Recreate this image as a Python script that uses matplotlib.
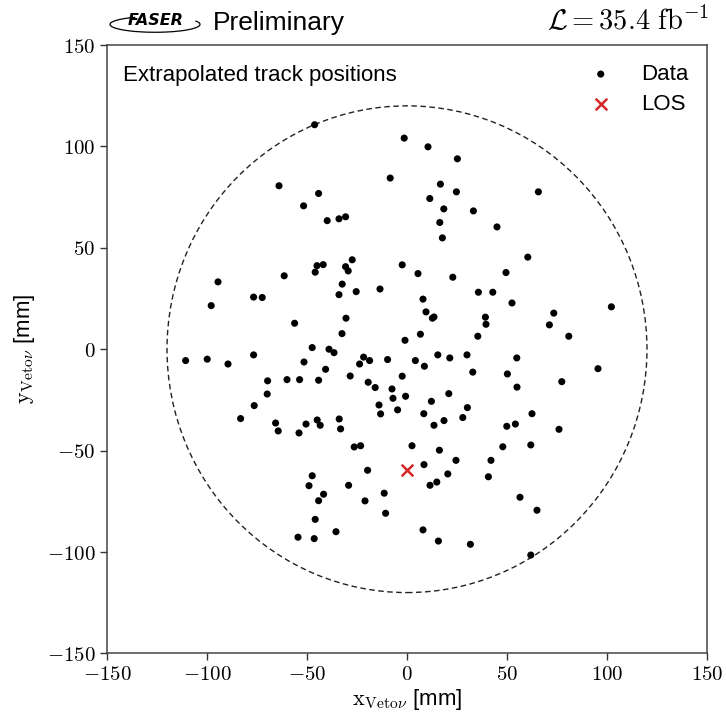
import matplotlib
matplotlib.use("Agg")
import matplotlib.pyplot as plt
from matplotlib.patches import Circle, Arc
import numpy as np

plt.rcParams['font.family'] = ['Liberation Sans', 'DejaVu Sans']
plt.rcParams['mathtext.fontset'] = 'cm'

# Extrapolated track positions (mm)
data_x = [-46.2, -1.4, -8.4, -64.0, -44.2, -51.7, -39.9, -34.0, -30.7, -2.4,
          -27.4, -45.0, -41.9, -45.9, -30.7, -29.4, -61.4, -94.5, -32.4, -34.0,
          -25.4, -13.5, -76.7, -72.4, -97.9, -30.5, -56.2, -32.5, -1.0,
          10.5, 25.2, 16.7, 24.7, 65.7, 11.4, 18.4, 33.2, 16.4, 45.0,
          17.7, 60.4, 5.5, 22.9, 49.5, 35.7, 42.9, 8.0, 52.5, 102.2,
          9.5, 73.4, 12.7, 13.5, 39.2, 39.5, 71.2, 6.7, 35.4, 80.9,
          -47.4, -39.0, -36.5, -110.7, -99.9, -89.5, -76.7, -51.5, -40.7, -21.7,
          -23.7, -18.7, -9.7, -69.7, -60.0, -53.7, -44.2, -28.4, -19.4, -15.9,
          -2.4, -7.5, -7.0, -0.7, -69.9, -76.4, -14.0, -13.2, -4.7, -83.2,
          -65.7, -64.4, -50.5, -44.9, -43.4, -33.9, -33.2, -54.0, -26.4, -23.2,
          -19.7, -47.4, -49.0, -29.2, -41.7, -44.2, -21.0, -11.4, -10.7, -45.9,
          -35.5, -54.5, -46.4,
          15.4, 21.4, 30.0, 4.2, 8.7, 54.9, 95.5, 32.9, 50.2, 77.4,
          55.0, 20.9, 12.2, 30.2, 8.4, 27.9, 18.5, 13.5, 62.5, 54.2,
          49.9, 76.0, 2.5, 16.2, 47.9, 61.9, 24.5, 42.0, 8.5, 20.4,
          14.9, 11.5, 40.7, 56.5, 65.0, 8.0, 15.7, 31.7, 61.9]
data_y = [110.7, 104.1, 84.4, 80.6, 76.8, 70.7, 63.4, 64.3, 65.3, 41.6,
          44.1, 41.2, 41.7, 38.0, 40.7, 38.6, 36.2, 33.2, 32.1, 26.9,
          28.4, 29.7, 25.7, 25.5, 21.5, 15.3, 12.8, 7.7, 4.4,
          99.8, 93.9, 81.4, 77.6, 77.6, 74.3, 69.2, 68.2, 62.5, 60.3,
          54.9, 45.4, 37.3, 35.5, 37.8, 28.1, 28.1, 24.7, 22.8, 20.9,
          18.4, 17.8, 15.3, 15.9, 15.8, 12.3, 12.0, 7.4, 6.4, 6.4,
          0.8, 0.0, -1.7, -5.6, -4.9, -7.3, -2.8, -6.3, -9.9, -3.9,
          -7.3, -5.6, -5.1, -15.6, -15.0, -15.0, -15.3, -13.2, -16.3, -18.9,
          -13.3, -19.6, -24.2, -23.2, -22.1, -27.8, -27.5, -31.9, -29.9, -34.2,
          -36.4, -40.3, -36.9, -34.9, -37.5, -34.4, -39.3, -41.3, -48.2, -47.6,
          -59.7, -62.4, -67.3, -67.1, -71.5, -74.7, -74.8, -71.0, -80.9, -83.9,
          -90.0, -92.7, -93.4,
          -2.8, -4.3, -2.8, -5.6, -8.4, -4.3, -9.6, -11.3, -12.2, -16.0,
          -18.7, -21.9, -25.7, -28.8, -31.8, -33.7, -35.2, -37.5, -31.8, -36.9,
          -38.0, -39.5, -47.6, -49.8, -48.1, -47.2, -54.8, -54.8, -56.9, -61.5,
          -65.5, -67.1, -62.9, -73.0, -79.4, -89.1, -94.6, -96.2, -101.5]

los_x = [0.0]
los_y = [-59.7]
veto_radius = 120.0

ticks = [-150, -100, -50, 0, 50, 100, 150]
tick_labels = [r"$-150$", r"$-100$", r"$-50$", r"$0$", r"$50$", r"$100$", r"$150$"]

fig = plt.figure(figsize=(7.26, 7.17), dpi=100)
ax = fig.add_axes([0.1474, 0.0887, 0.8264, 0.8485])

ax.add_patch(Circle((0, 0), veto_radius, fill=False, ls=(0, (4, 2.5)), lw=1.0, color='#222222'))
ax.scatter(data_x, data_y, s=26, c='black', edgecolors='none', label='Data', zorder=3)
ax.scatter(los_x, los_y, s=70, c='#d62728', marker='x', linewidths=1.8, label='LOS', zorder=4)

ax.set_xlim(-150, 150)
ax.set_ylim(-150, 150)
ax.set_xticks(ticks)
ax.set_xticklabels(tick_labels)
ax.set_yticks(ticks)
ax.set_yticklabels(tick_labels)
ax.tick_params(direction='out', length=5, width=1, labelsize=15, color='#333333')
for sp in ax.spines.values():
    sp.set_color('#444444')
    sp.set_linewidth(1.1)

ax.set_xlabel(r"$\mathrm{x_{Veto\nu}}$ [mm]", fontsize=16, labelpad=2)
ax.set_ylabel(r"$\mathrm{y_{Veto\nu}}$ [mm]", fontsize=16, labelpad=7)

ax.text(0.027, 0.95, "Extrapolated track positions", transform=ax.transAxes,
        fontsize=16, va='center', ha='left')

leg = ax.legend(loc='upper right', frameon=False, fontsize=16, handletextpad=0.8,
                bbox_to_anchor=(1.0, 1.0), borderaxespad=0.45, labelspacing=0.4)

# Header
fig.text(0.293, 0.968, "Preliminary", fontsize=19, va='center', ha='left')
fig.text(0.977, 0.970, r"$\mathcal{L} = 35.4\ \mathrm{fb}^{-1}$", fontsize=20.5,
         va='center', ha='right')
fig.text(0.176, 0.972, "FASER", fontsize=11.5, fontweight='bold', style='italic',
         va='center', ha='left', family='DejaVu Sans')
fig.patches.append(Arc((0.2135, 0.966), 0.124, 0.022, theta1=160, theta2=365,
                       transform=fig.transFigure, color='black', lw=0.9, figure=fig))

fig.savefig("out.png", dpi=100)
